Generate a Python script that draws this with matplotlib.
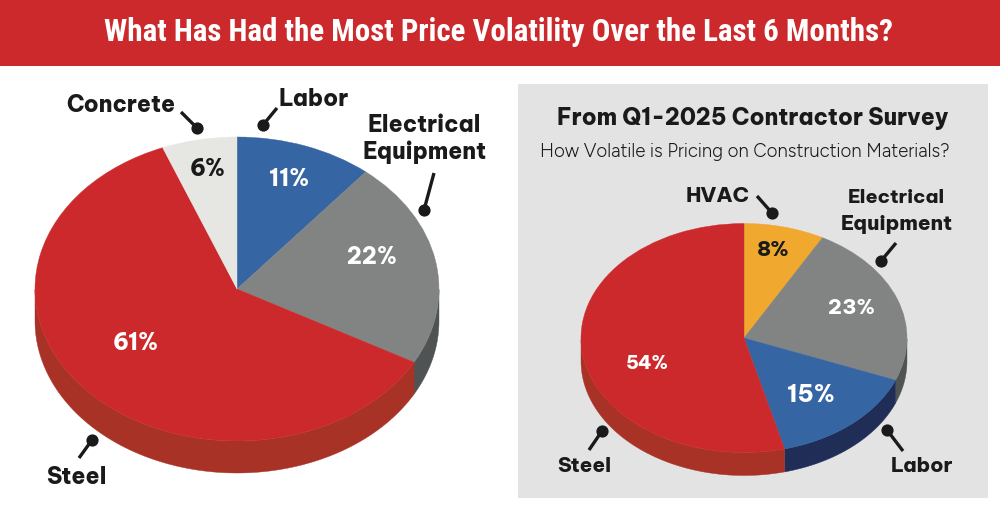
import matplotlib
matplotlib.use("Agg")
import matplotlib.pyplot as plt
import numpy as np

W, H = 1000, 514

title = "What Has Had the Most Price Volatility Over the Last 6 Months?"
panel_title = "From Q1-2025 Contractor Survey"
panel_subtitle = "How Volatile is Pricing on Construction Materials?"

# shares run clockwise from twelve o'clock
left_names = ["Labor", "Electrical Equipment", "Steel", "Concrete"]
left_values = [11, 22, 61, 6]
right_names = ["HVAC", "Electrical Equipment", "Labor", "Steel"]
right_values = [8, 23, 15, 54]

RED = "#cb292b"
BLUE = "#3565a2"
GREY = "#828483"
LIGHT = "#e6e6e2"
ORANGE = "#f0a82f"
top_colors = {"Labor": BLUE, "Electrical Equipment": GREY, "Steel": RED,
              "Concrete": LIGHT, "HVAC": ORANGE}
side_colors = {"Labor": "#1f2d57", "Electrical Equipment": "#4f5353", "Steel": "#a93226",
               "Concrete": "#b0b0aa", "HVAC": "#b87d1c"}
INK = "#1a1a1a"

TITLE_FONT = ["Roboto Condensed", "Liberation Sans"]
LABEL_FONT = ["Be Vietnam Pro", "Lato"]
BODY_FONT = ["Figtree", "Lato"]

fig = plt.figure(figsize=(W / 100, H / 100), dpi=100, facecolor="white")


def draw_pie(cx, cy, rx, ry, depth, labels, values):
    ax = fig.add_axes([(cx - rx) / W, 1 - (cy + ry) / H, 2 * rx / W, 2 * ry / H])

    # extruded rim, only the front half can be seen
    edges = 90 - np.cumsum([0] + values) * 3.6
    for name, start, end in zip(labels, edges[:-1], edges[1:]):
        a = np.radians(np.linspace(end, start, 200)) % (2 * np.pi)
        a = a[np.sin(a) <= 0]
        if len(a) < 2:
            continue
        a = np.sort(a)
        xs = np.cos(a)
        ys = np.sin(a)
        ax.fill(np.r_[xs, xs[::-1]], np.r_[ys, ys[::-1] - depth / ry],
                color=side_colors[name], lw=0.3, clip_on=False)

    wedges, _ = ax.pie(values, colors=[top_colors[n] for n in labels], startangle=90,
                       counterclock=False, radius=1)
    for w in wedges:
        w.set_edgecolor(w.get_facecolor())
        w.set_linewidth(0.3)
    ax.set_aspect("auto")
    ax.set_xlim(-1, 1)
    ax.set_ylim(-1, 1)
    ax.axis("off")


draw_pie(237, 289, 202, 152, 32, left_names, left_values)

# overlay in pixel units for the panel, header and lettering
bg = fig.add_axes([0, 0, 1, 1], zorder=-1)
bg.set_xlim(0, W)
bg.set_ylim(H, 0)
bg.axis("off")
bg.fill_between([0, W], 0, 66, color=RED, lw=0)
bg.fill_between([518, 988], 84, 498, color="#e3e3e3", lw=0)

draw_pie(744, 338, 163, 114.5, 23, right_names, right_values)

top = fig.add_axes([0, 0, 1, 1], zorder=5)
top.set_xlim(0, W)
top.set_ylim(H, 0)
top.axis("off")
top.patch.set_alpha(0)


def callout(x0, y0, x1, y1):
    top.plot([x0, x1], [y0, y1], color=INK, lw=2.4, solid_capstyle="butt")
    top.plot(x0, y0, "o", color=INK, ms=8.8, mew=0)


def label(x, y, s, size=16.3, color=INK, weight=800, family=LABEL_FONT):
    top.text(x, y, s, ha="center", va="center", fontsize=size, color=color,
             fontweight=weight, family=family)


top.text(499, 32, title, ha="center", va="center", color="white", fontsize=22.3,
         fontweight="bold", family=TITLE_FONT)
label(753, 119, panel_title, size=16.3)
label(745, 152, panel_subtitle, size=13.4, weight=400, family=BODY_FONT)

# left pie
label(121, 105, "Concrete")
label(314, 99, "Labor")
label(424, 126, "Electrical")
label(425, 152, "Equipment")
label(76, 477, "Steel")
callout(197, 128, 181, 112)
callout(263, 125, 277, 108)
callout(424, 210, 434, 173)
callout(92, 440, 79, 458)
label(208, 170, f"{left_values[3]}%")
label(289, 180, f"{left_values[0]}%", color="white")
label(372, 258, f"{left_values[1]}%", color="white")
label(136, 343, f"{left_values[2]}%", color="white")

# right pie
label(718, 196, "HVAC", size=15)
label(896, 198, "Electrical", size=14)
label(897, 224, "Equipment", size=14.8)
label(584, 467, "Steel", size=14.6)
label(922, 467, "Labor", size=14.6)
callout(772, 213, 757, 196)
callout(881, 261, 896, 243)
callout(602, 431, 589, 450)
callout(887, 430, 903, 451)
label(773, 250, f"{right_values[0]}%", size=15)
label(851, 309, f"{right_values[1]}%", size=15, color="white")
label(647, 364, f"{right_values[3]}%", size=13.5, color="white")
label(811, 395, f"{right_values[2]}%", size=17, color="white")

fig.savefig("out.png", dpi=100, facecolor="white")
